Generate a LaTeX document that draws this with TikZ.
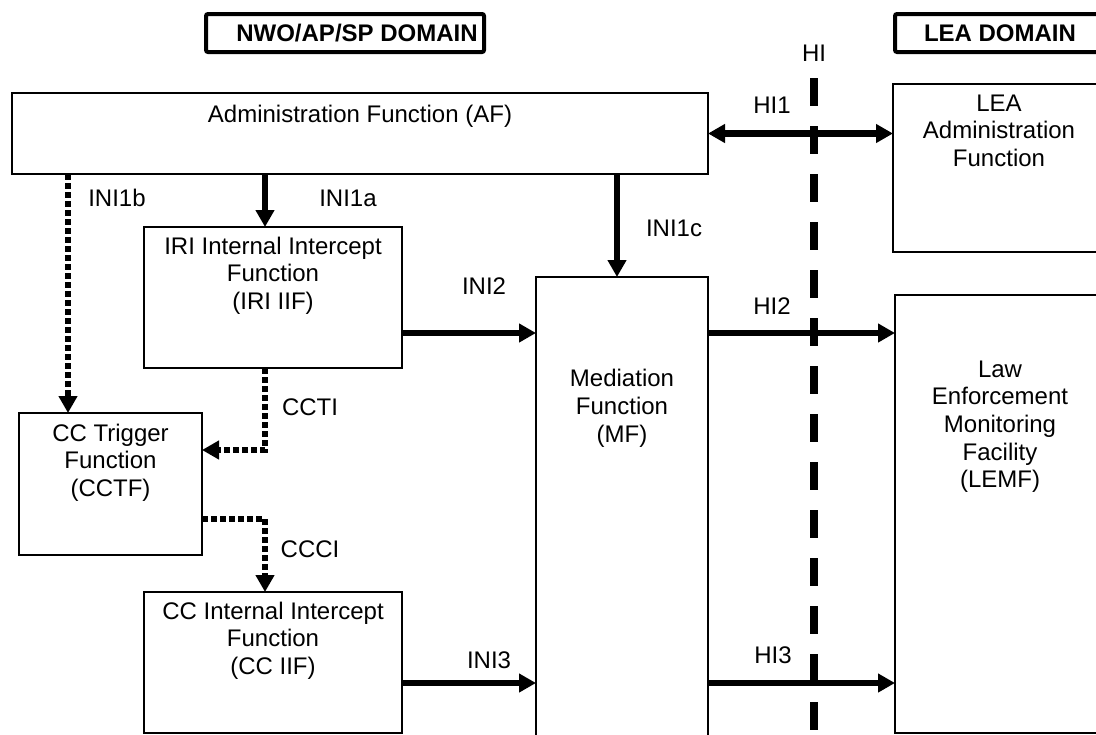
\documentclass[tikz,border=0pt]{standalone}
\usepackage{fontspec}
\setmainfont{Liberation Sans}
\usetikzlibrary{arrows.meta,positioning}
\tikzstyle{box}      =[draw, line width=0.6pt, inner sep=0pt,
                       outer sep=0pt, anchor=north west]
\tikzstyle{domainbox}=[draw, line width=2pt, rounded corners=1pt,
                       inner sep=0pt, outer sep=0pt, anchor=north west,
                       minimum height=19pt]
\tikzstyle{txt}      =[inner sep=0pt, align=center,
                       font=\fontsize{12}{13.8}\selectfont]
\tikzstyle{tag}      =[txt]
\tikzstyle{ini}      =[line width=3.2pt,
                       -{Triangle[length=8.5pt, width=9pt]}]
\tikzstyle{both}     =[line width=3.2pt,
                       {Triangle[length=8.5pt, width=9pt]}-{Triangle[length=8.5pt, width=9pt]}]
\tikzstyle{trig}     =[ini, dash pattern=on 3pt off 1.5pt]
\tikzstyle{hiline}   =[line width=4pt, dash pattern=on 14pt off 10pt]

\begin{document}
\begin{tikzpicture}[x=0.5pt, y=-0.5pt]
    \useasboundingbox (0,0) rectangle (1096,734);
    \clip (0,0) rectangle (1096,734);
    % domains
    \node[domainbox, minimum width=139pt] (nwobox) at (206,14) {};
    \node[tag, font=\fontsize{12}{13.8}\selectfont\bfseries] (nwo) at (357,33) {NWO/AP/SP DOMAIN};
    \node[domainbox, minimum width=105pt, font=\fontsize{12}{13.8}\selectfont\bfseries] (lea) at (895,14) {LEA DOMAIN};
    % boxes
    \node[box, line width=1pt, minimum width=348pt, minimum height=40.5pt] (af) at (12,93) {};
    \node[box, minimum width=106pt, minimum height=84pt] (leaadmin) at (893,84) {};
    \node[box, minimum width=129pt, minimum height=70.5pt] (iri) at (144,227) {};
    \node[box, line width=0.8pt, minimum width=86pt, minimum height=241.5pt] (mf) at (536,277) {};
    \node[box, minimum width=105pt, minimum height=219pt] (lemf) at (895,295) {};
    \node[box, minimum width=91.5pt, minimum height=71pt] (cctf) at (19,413) {};
    \node[box, minimum width=129pt, minimum height=70.5pt] (cciif) at (144,592) {};
    % box texts
    \node[txt, below=5.7pt of af.north] (aftext) {Administration Function (AF)};
    \node[txt, below=5.2pt of leaadmin.north] (leaadmintext) {LEA\\Administration\\Function};
    \node[txt, below=4.7pt of iri.north] (iritext) {IRI Internal Intercept\\Function\\(IRI IIF)};
    \node[txt, below=46pt of mf.north] (mftext) {Mediation\\Function\\(MF)};
    \node[txt, below=32.7pt of lemf.north] (lemftext) {Law\\Enforcement\\Monitoring\\Facility\\(LEMF)};
    \node[txt, below=5.2pt of cctf.north] (cctftext) {CC Trigger\\Function\\(CCTF)};
    \node[txt, below=4.7pt of cciif.north] (cciiftext) {CC Internal Intercept\\Function\\(CC IIF)};
    % helper coordinates
    \coordinate (xa) at (265,0);
    \coordinate (xb) at (68,0);
    \coordinate (xc) at (617,0);
    \coordinate (y2) at (0,333);
    \coordinate (y3) at (0,683);
    \coordinate (yccti) at (0,450);
    \coordinate (yccci) at (0,519);
    \coordinate (hitop) at (814,78);
    % HI line
    \node[tag] (hi) at (814,53) {HI};
    \draw[hiline] (hitop) -- (hitop |- mf.south);
    % connectors
    \draw[ini] (af.south -| xa) -- (iri.north -| xa);
    \draw[trig] (af.south -| xb) -- (cctf.north -| xb);
    \draw[ini] (af.south -| xc) -- (mf.north -| xc);
    \draw[both] (af.east) -- (af.east -| leaadmin.west);
    \draw[ini] (iri.east |- y2) -- (mf.west |- y2);
    \draw[ini] (mf.east |- y2) -- (lemf.west |- y2);
    \draw[ini] (cciif.east |- y3) -- (mf.west |- y3);
    \draw[ini] (mf.east |- y3) -- (lemf.west |- y3);
    \draw[trig] (iri.south -| xa) |- (cctf.east |- yccti);
    \draw[trig] (cctf.east |- yccci) -| (cciif.north -| xa);
    % labels
    \node[tag] (ini1b) at (117,198) {INI1b};
    \node[tag] (ini1a) at (348,198) {INI1a};
    \node[tag] (ini1c) at (674,228) {INI1c};
    \node[tag] (ini2) at (484,286) {INI2};
    \node[tag] (ini3) at (489,660) {INI3};
    \node[tag] (hi1) at (772,105) {HI1};
    \node[tag] (hi2) at (772,306) {HI2};
    \node[tag] (hi3) at (773,655) {HI3};
    \node[tag] (ccti) at (310,407) {CCTI};
    \node[tag] (ccci) at (310,549) {CCCI};
\end{tikzpicture}
\end{document}
